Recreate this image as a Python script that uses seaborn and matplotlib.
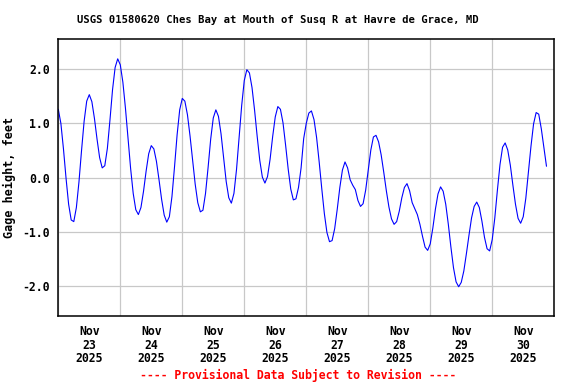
import matplotlib
matplotlib.use("Agg")
import matplotlib.pyplot as plt
import matplotlib.dates as mdates
import seaborn as sns
import pandas as pd
from matplotlib.ticker import FormatStrFormatter

# hourly gage height (feet), starting Nov 23 2025 00:00
start_time = "2025-11-23 00:00"
gage_height = [
    1.26, 1.00, 0.53, -0.01, -0.49, -0.78, -0.81, -0.55, -0.08, 0.50, 1.04, 1.41,
    1.53, 1.40, 1.09, 0.71, 0.37, 0.18, 0.22, 0.54, 1.06, 1.62, 2.03, 2.19,
    2.08, 1.76, 1.28, 0.73, 0.17, -0.29, -0.59, -0.68, -0.55, -0.25, 0.12, 0.44,
    0.59, 0.53, 0.30, -0.04, -0.40, -0.69, -0.82, -0.72, -0.35, 0.20, 0.79, 1.25,
    1.46, 1.41, 1.16, 0.77, 0.32, -0.12, -0.46, -0.63, -0.60, -0.29, 0.19, 0.71,
    1.10, 1.25, 1.13, 0.81, 0.37, -0.07, -0.37, -0.47, -0.29, 0.15, 0.73, 1.33,
    1.79, 1.99, 1.93, 1.66, 1.24, 0.76, 0.32, 0.01, -0.10, 0.02, 0.34, 0.76,
    1.12, 1.31, 1.26, 1.01, 0.60, 0.16, -0.21, -0.41, -0.39, -0.18, 0.18, 0.72,
    1.00, 1.19, 1.23, 1.07, 0.74, 0.29, -0.20, -0.66, -1.01, -1.18, -1.16, -0.94,
    -0.58, -0.18, 0.14, 0.29, 0.18, -0.04, -0.14, -0.22, -0.42, -0.53, -0.48, -0.23,
    0.14, 0.51, 0.75, 0.78, 0.66, 0.42, 0.10, -0.24, -0.54, -0.76, -0.86, -0.81,
    -0.62, -0.37, -0.18, -0.11, -0.24, -0.46, -0.57, -0.68, -0.86, -1.08, -1.28, -1.34,
    -1.22, -0.93, -0.58, -0.30, -0.17, -0.25, -0.49, -0.86, -1.28, -1.66, -1.92, -2.01,
    -1.93, -1.72, -1.40, -1.06, -0.74, -0.53, -0.45, -0.55, -0.80, -1.10, -1.31, -1.35,
    -1.14, -0.74, -0.23, 0.24, 0.56, 0.64, 0.51, 0.23, -0.14, -0.49, -0.75, -0.84,
    -0.72, -0.38, 0.09, 0.58, 0.99, 1.20, 1.17, 0.90, 0.55, 0.21,
]
y_ticks = [-2, -1, 0, 1, 2]
title = "USGS 01580620 Ches Bay at Mouth of Susq R at Havre de Grace, MD"
footer = "---- Provisional Data Subject to Revision ----"

df = pd.DataFrame({
    "time": pd.date_range(start_time, periods=len(gage_height), freq="h"),
    "height": gage_height,
})

sns.set_style("white")
plt.rcParams["font.family"] = ["DejaVu Sans Mono", "DejaVu Sans"]
plt.rcParams["font.weight"] = "bold"
plt.rcParams["axes.unicode_minus"] = False
plt.rcParams["text.color"] = "black"
plt.rcParams["xtick.color"] = "black"
plt.rcParams["ytick.color"] = "black"
plt.rcParams["axes.labelcolor"] = "black"

fig = plt.figure(figsize=(5.76, 3.84), dpi=100)
ax = fig.add_axes([0.1012, 0.177, 0.861, 0.7207])

sns.lineplot(data=df, x="time", y="height", ax=ax, color="#0000FF",
             linewidth=0.8)

ax.set_xlim(pd.Timestamp("2025-11-23"), pd.Timestamp("2025-12-01"))
ax.set_ylim(-2.55, 2.55)

# date labels sit at noon, grid lines at midnight
ax.xaxis.set_major_locator(mdates.HourLocator(byhour=12))
ax.xaxis.set_major_formatter(mdates.DateFormatter("%b\n%d\n%Y"))
ax.xaxis.set_minor_locator(mdates.DayLocator())
ax.set_yticks(y_ticks)
ax.yaxis.set_major_formatter(FormatStrFormatter("%.1f"))

ax.grid(False)
ax.grid(which="minor", axis="x", color="#C8C8C8", linewidth=0.9)
ax.grid(which="major", axis="y", color="#C8C8C8", linewidth=0.9)
ax.set_axisbelow(True)

ax.tick_params(axis="both", which="both", length=0, labelsize=8.3,
               colors="black")
ax.tick_params(axis="x", pad=6.5)
ax.tick_params(axis="y", pad=6)
for lbl in ax.get_xticklabels():
    lbl.set_linespacing(1.05)
    lbl.set_fontweight("bold")
for lbl in ax.get_yticklabels():
    lbl.set_fontweight("bold")

for sp in ax.spines.values():
    sp.set_color("black")
    sp.set_linewidth(1.1)

ax.set_xlabel("")
ax.set_ylabel("Gage height, feet", fontsize=8.5, fontweight="bold",
              labelpad=5, color="black")

fig.text(0.482, 0.947, title, ha="center", va="center", fontsize=7.6,
         fontweight="bold", color="black")
fig.text(0.518, 0.0234, footer, ha="center", va="center", fontsize=8.3,
         fontweight="bold", color="#FF0000")

fig.savefig("out.png", dpi=100)
